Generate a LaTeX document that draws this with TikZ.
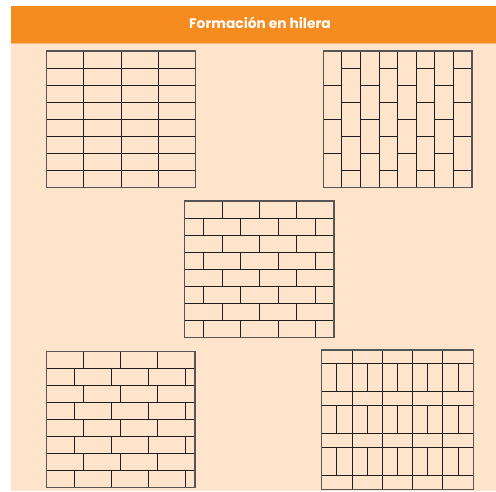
\documentclass[tikz,border=0pt]{standalone}
\usepackage{fontspec}
\setmainfont{Poppins}
\definecolor{hdr}{HTML}{F68B1F}
\definecolor{peach}{HTML}{FDE4CA}
\definecolor{brickline}{HTML}{1E1E1E}
\tikzset{
  brick/.style={draw=brickline, line width=1pt},
  frame/.style={draw=brickline!75!white, line width=1.5pt},
}
\begin{document}
\begin{tikzpicture}[x=1pt,y=-1pt]
\useasboundingbox (0,0) rectangle (496,491);
\fill[white] (0,0) rectangle (496,491);
% panel
\fill[peach] (11,42.5) rectangle (496,491);
\fill[hdr] (11,6) rectangle (496,42.5);
\draw[hdr!60!white, line width=0.8pt] (11,43) -- (496,43);
\node[text=white, font=\bfseries\fontsize{13.8}{16}\selectfont, inner sep=0pt] (title) at (260,23) {Formación en hilera};

% ---------- Pattern 1: stack bond (top-left)
\begin{scope}[shift={(46.7,51)}]
  \def\W{148.6}\def\H{136.7}
  \pgfmathsetmacro{\bw}{\W/4}\pgfmathsetmacro{\rh}{\H/8}
  \foreach \i in {1,...,7} \draw[brick] (0,\i*\rh) -- (\W,\i*\rh);
  \foreach \j in {1,2,3} \draw[brick] (\j*\bw,0) -- (\j*\bw,\H);
  \draw[frame] (0,0) rectangle (\W,\H);
\end{scope}

% ---------- Pattern 2: vertical running bond (top-right)
\begin{scope}[shift={(323.3,51)}]
  \def\W{148.7}\def\H{136.7}
  \pgfmathsetmacro{\cw}{\W/8}\pgfmathsetmacro{\rh}{\H/8}
  \foreach \j in {1,...,7} \draw[brick] (\j*\cw,0) -- (\j*\cw,\H);
  \foreach \c in {0,2,4,6}
    \foreach \k in {2,4,6}
      \draw[brick] (\c*\cw,\k*\rh) -- ({(\c+1)*\cw},\k*\rh);
  \foreach \c in {1,3,5,7}
    \foreach \k in {1,3,5,7}
      \draw[brick] (\c*\cw,\k*\rh) -- ({(\c+1)*\cw},\k*\rh);
  \draw[frame] (0,0) rectangle (\W,\H);
\end{scope}

% ---------- Pattern 3: half running bond (middle)
\begin{scope}[shift={(184.7,201)}]
  \def\W{149.3}\def\H{136.3}
  \pgfmathsetmacro{\bw}{\W/4}\pgfmathsetmacro{\rh}{\H/8}
  \foreach \i in {1,...,7} \draw[brick] (0,\i*\rh) -- (\W,\i*\rh);
  \foreach \r in {0,2,4,6}
    \foreach \j in {1,2,3}
      \draw[brick] (\j*\bw,\r*\rh) -- (\j*\bw,{(\r+1)*\rh});
  \foreach \r in {1,3,5,7}
    \foreach \j in {0.5,1.5,2.5,3.5}
      \draw[brick] (\j*\bw,\r*\rh) -- (\j*\bw,{(\r+1)*\rh});
  \draw[frame] (0,0) rectangle (\W,\H);
\end{scope}

% ---------- Pattern 4: quarter running bond (bottom-left)
\begin{scope}[shift={(46.7,351.7)}]
  \def\W{148.3}\def\H{136}
  \pgfmathsetmacro{\bw}{\W/4}\pgfmathsetmacro{\rh}{\H/8}
  \foreach \i in {1,...,7} \draw[brick] (0,\i*\rh) -- (\W,\i*\rh);
  \foreach \r in {0,2,4,6}
    \foreach \j in {1,2,3}
      \draw[brick] (\j*\bw,\r*\rh) -- (\j*\bw,{(\r+1)*\rh});
  \foreach \r in {1,3,5,7}
    \foreach \j in {0.75,1.75,2.75,3.75}
      \draw[brick] (\j*\bw,\r*\rh) -- (\j*\bw,{(\r+1)*\rh});
  \draw[frame] (0,0) rectangle (\W,\H);
\end{scope}

% ---------- Pattern 5: alternating horizontal / vertical (bottom-right)
\begin{scope}[shift={(321.7,350)}]
  \def\W{151.6}\def\H{139.3}
  \pgfmathsetmacro{\cw}{\W/5}
  \def\hr{13.5}
  \pgfmathsetmacro{\vr}{(\H-4*\hr)/3}
  \foreach \j in {1,...,4} \draw[brick] (\j*\cw,0) -- (\j*\cw,\H);
  \foreach \k in {0,1,2} {
    \pgfmathsetmacro{\ya}{(\k+1)*\hr+\k*\vr}
    \pgfmathsetmacro{\yb}{\ya+\vr}
    \draw[brick] (0,\ya) -- (\W,\ya);
    \draw[brick] (0,\yb) -- (\W,\yb);
    \foreach \j in {0.5,1.5,2.5,3.5,4.5}
      \draw[brick] (\j*\cw,\ya) -- (\j*\cw,\yb);
  }
  \draw[frame] (0,0) rectangle (\W,\H);
\end{scope}
\end{tikzpicture}
\end{document}
